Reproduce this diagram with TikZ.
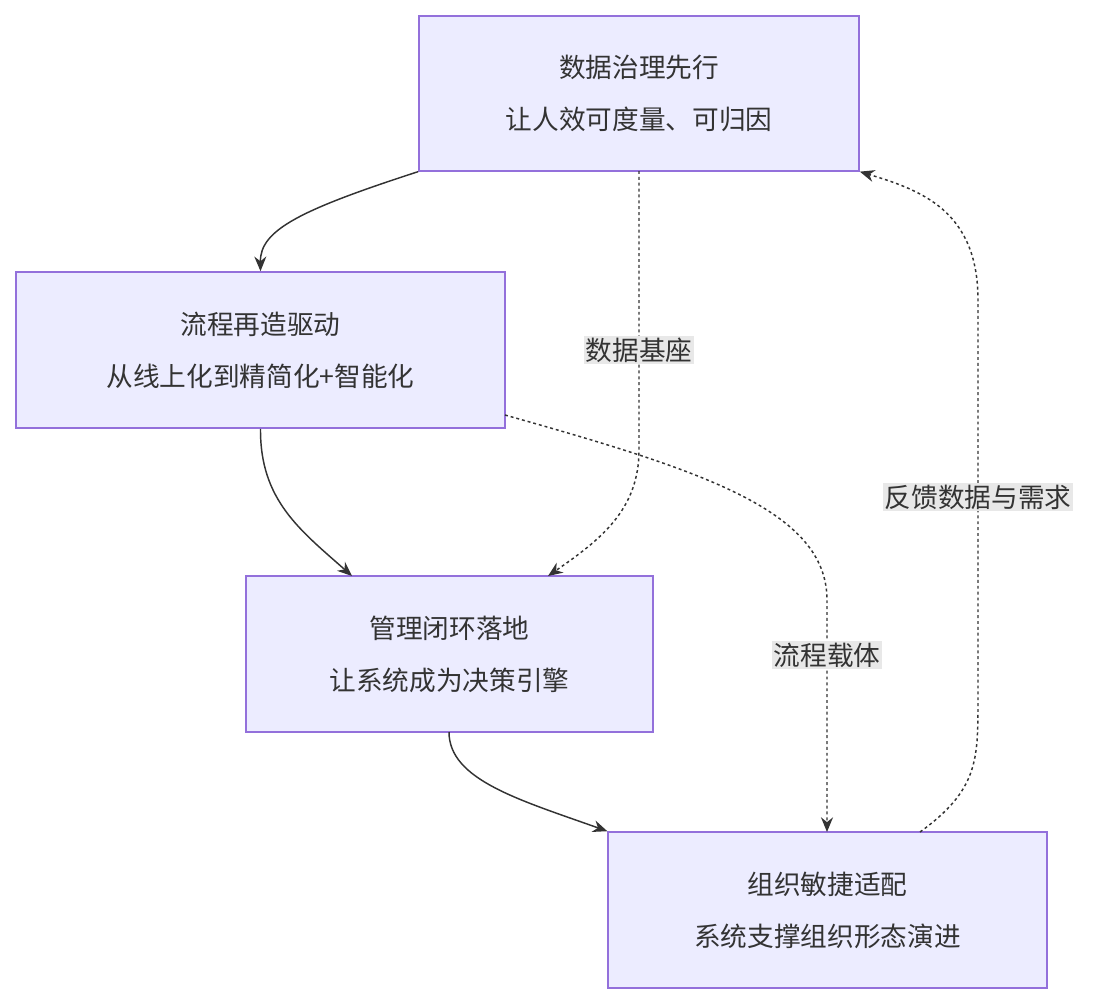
\documentclass[tikz,border=0pt]{standalone}
\usepackage{fontspec}
\setmainfont{Noto Sans CJK SC}
\usetikzlibrary{arrows.meta}
\definecolor{boxfill}{HTML}{ECECFF}
\definecolor{boxline}{HTML}{9370DB}
\definecolor{edgegray}{HTML}{333333}
\definecolor{labelbg}{HTML}{E8E8E8}
\begin{document}
\begin{tikzpicture}[x=0.75pt, y=-0.75pt,
    stage/.style={rectangle, draw=boxline, fill=boxfill, line width=1.2pt, align=center,
      font=\fontsize{20}{39}\selectfont, text=edgegray, inner sep=0pt},
    flow/.style={draw=edgegray, line width=1.1pt, -{Stealth[length=11pt,width=9pt]}},
    dotflow/.style={flow, dash pattern=on 2.2pt off 2.2pt},
    tag/.style={fill=labelbg, font=\fontsize{20}{24}\selectfont, text=edgegray, inner sep=1pt}]
        \useasboundingbox (0,0) rectangle (1107,1004);
        % process boxes
        \node[stage, minimum width=330pt, minimum height=116pt] (gov) at (639,93.5) {数据治理先行\\让人效可度量、可归因};
        \node[stage, minimum width=367pt, minimum height=117pt] (flow) at (260.5,350) {流程再造驱动\\从线上化到精简化+智能化};
        \node[stage, minimum width=305pt, minimum height=117pt] (loop) at (449.5,654) {管理闭环落地\\让系统成为决策引擎};
        \node[stage, minimum width=329pt, minimum height=117pt] (org) at (827.5,910) {组织敏捷适配\\系统支撑组织形态演进};
        % main chain
        \draw[flow] (gov.south west) .. controls (300,210) and (260,230) .. (flow.north);
        \draw[flow] (flow.south) .. controls (260,500) and (300,530) .. (352,576);
        \draw[flow] (449,732) .. controls (449,780) and (520,800) .. (org.north west);
        % dotted links
        \draw[dotflow] (639,171) -- (639,450) .. controls (639,510) and (600,540) .. (548,576);
        \node[tag] at (639,350) {数据基座};
        \draw[dotflow] (505,415) .. controls (700,470) and (827,510) .. (827,600) -- (827,832);
        \node[tag] at (827,655) {流程载体};
        \draw[dotflow] (920,832) .. controls (978,790) and (978,760) .. (978,700) -- (978,300) .. controls (978,210) and (920,190) .. (gov.south east);
        \node[tag] at (978,497) {反馈数据与需求};
\end{tikzpicture}
\end{document}
